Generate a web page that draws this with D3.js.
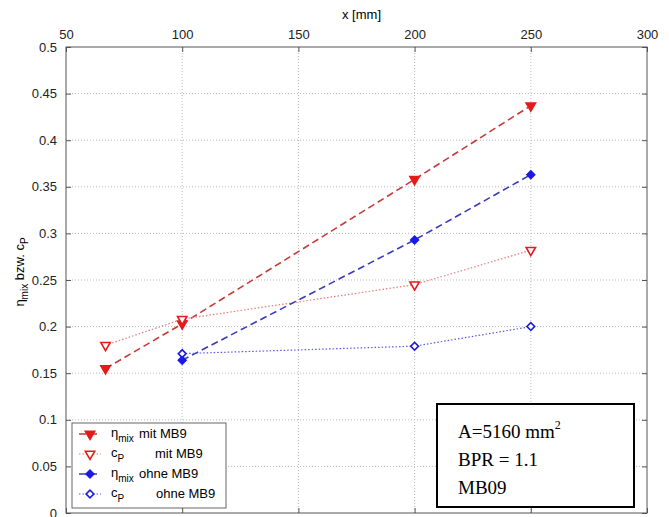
<!DOCTYPE html>
<html>
<head>
<meta charset="utf-8">
<script src="https://cdnjs.cloudflare.com/ajax/libs/d3/7.8.5/d3.min.js"></script>
<style>
  body { margin: 0; background: #fff; }
  svg { font-family: "Liberation Sans", Arial, sans-serif; }
</style>
</head>
<body>
<script>
// data
const xMit = [67, 100, 200, 250];
const etaMit = [0.155, 0.203, 0.358, 0.437];
const cpMit = [0.180, 0.208, 0.245, 0.282];
const xOhne = [100, 200, 250];
const etaOhne = [0.164, 0.293, 0.363];
const cpOhne = [0.171, 0.179, 0.200];
const xTicks = [50, 100, 150, 200, 250, 300];
const yTicks = [0, 0.05, 0.1, 0.15, 0.2, 0.25, 0.3, 0.35, 0.4, 0.45, 0.5];
const infoLines = ["A=5160 mm", "BPR = 1.1", "MB09"];

const W = 669, H = 517;
const m = {left: 66, right: 22, top: 47, bottom: 4};

const svg = d3.select('body').append('svg')
    .attr('width', W).attr('height', H);

const x = d3.scaleLinear().domain([50, 300]).range([m.left, W - m.right]);
const y = d3.scaleLinear().domain([0, 0.5]).range([H - m.bottom, m.top]);

// grid
const grid = svg.append('g').attr('stroke', '#bbb').attr('stroke-dasharray', '1,2');
grid.selectAll('line.gx').data(xTicks.slice(1, -1)).join('line')
    .attr('x1', d => x(d)).attr('x2', d => x(d))
    .attr('y1', y(0)).attr('y2', y(0.5));
grid.selectAll('line.gy').data(yTicks.slice(1, -1)).join('line')
    .attr('x1', x(50)).attr('x2', x(300))
    .attr('y1', d => y(d)).attr('y2', d => y(d));

// axes
const axisCol = '#555';
function styleAxis(g) {
  g.select('.domain').remove();
  g.selectAll('.tick line').attr('stroke', axisCol);
}
svg.append('g').attr('transform', `translate(0,${y(0.5)})`)
    .call(d3.axisTop(x).tickValues(xTicks).tickSize(-5).tickPadding(8).tickFormat(d3.format('d')))
    .call(styleAxis);
svg.append('g').attr('transform', `translate(0,${y(0)})`)
    .call(d3.axisBottom(x).tickValues(xTicks).tickSize(-5).tickFormat(''))
    .call(styleAxis);
svg.append('g').attr('transform', `translate(${x(50)},0)`)
    .call(d3.axisLeft(y).tickValues(yTicks).tickSize(-5).tickPadding(9).tickFormat(d => String(+d.toFixed(2))))
    .call(styleAxis);
svg.append('g').attr('transform', `translate(${x(300)},0)`)
    .call(d3.axisRight(y).tickValues(yTicks).tickSize(-5).tickFormat(''))
    .call(styleAxis);
svg.selectAll('.tick text').attr('font-size', 13).attr('fill', '#222')
    .attr('font-family', 'Liberation Sans, Arial, sans-serif');

svg.append('rect')
    .attr('x', x(50)).attr('y', y(0.5))
    .attr('width', x(300) - x(50)).attr('height', y(0) - y(0.5))
    .attr('fill', 'none').attr('stroke', axisCol).attr('stroke-width', 1);

// axis labels
svg.append('text').attr('x', (x(50) + x(300)) / 2 + 5).attr('y', 19)
    .attr('text-anchor', 'middle').attr('font-size', 13).text('x [mm]');
const yl = svg.append('text')
    .attr('transform', `translate(24,${(y(0) + y(0.5)) / 2 - 8}) rotate(-90)`)
    .attr('text-anchor', 'middle').attr('font-size', 13);
yl.append('tspan').text('η');
yl.append('tspan').attr('font-size', 10).attr('dy', 4).text('mix');
yl.append('tspan').attr('dy', -4).text(' bzw. c');
yl.append('tspan').attr('font-size', 10).attr('dy', 4).text('P');

// series
const red = '#e51b1b', blue = '#1a1ae6';
const tri = d3.symbol().type(d3.symbolTriangle).size(38);
const dia = d3.symbol().type(d3.symbolSquare).size(30);
const series = [
  {xs: xMit, ys: etaMit, color: red, lineCol: '#c83a3a', dash: '7,4', width: 1.6, sym: tri, rot: 180, filled: true},
  {xs: xMit, ys: cpMit, color: red, lineCol: '#e87a7a', dash: '1.5,2', width: 1.2, sym: tri, rot: 180, filled: false},
  {xs: xOhne, ys: etaOhne, color: blue, lineCol: '#3a3ac0', dash: '7,4', width: 1.6, sym: dia, rot: 45, filled: true},
  {xs: xOhne, ys: cpOhne, color: blue, lineCol: '#5a5ae0', dash: '1.5,2', width: 1.2, sym: dia, rot: 45, filled: false}
];
const line = d3.line().x(d => x(d[0])).y(d => y(d[1]));
series.forEach(s => {
  const pts = s.xs.map((v, i) => [v, s.ys[i]]);
  svg.append('path').datum(pts).attr('d', line)
      .attr('fill', 'none').attr('stroke', s.lineCol)
      .attr('stroke-width', s.width).attr('stroke-dasharray', s.dash);
  svg.selectAll(null).data(pts).join('path')
      .attr('d', s.sym)
      .attr('transform', d => `translate(${x(d[0])},${y(d[1])}) rotate(${s.rot})`)
      .attr('fill', s.filled ? s.color : '#fff')
      .attr('stroke', s.color).attr('stroke-width', 1.6);
});

// legend
const lg = svg.append('g');
lg.append('rect').attr('x', 72).attr('y', 423).attr('width', 154).attr('height', 85)
    .attr('fill', '#fff').attr('stroke', '#666').attr('stroke-width', 1);
const legRows = [
  {s: series[0], sym: 'η', sub: 'mix', rest: 'mit  MB9', restX: 139},
  {s: series[1], sym: 'c', sub: 'P', rest: 'mit  MB9', restX: 155},
  {s: series[2], sym: 'η', sub: 'mix', rest: 'ohne MB9', restX: 139},
  {s: series[3], sym: 'c', sub: 'P', rest: 'ohne MB9', restX: 156}
];
legRows.forEach((r, i) => {
  const yy = 434 + i * 20;
  lg.append('line').attr('x1', 79).attr('x2', 101).attr('y1', yy).attr('y2', yy)
      .attr('stroke', r.s.lineCol).attr('stroke-width', r.s.width).attr('stroke-dasharray', r.s.dash);
  lg.append('path').attr('d', r.s.sym)
      .attr('transform', `translate(90,${yy}) rotate(${r.s.rot})`)
      .attr('fill', r.s.filled ? r.s.color : '#fff')
      .attr('stroke', r.s.color).attr('stroke-width', 1.6);
  const t = lg.append('text').attr('x', 111).attr('y', yy + 3).attr('font-size', 13);
  t.append('tspan').text(r.sym);
  t.append('tspan').attr('font-size', 10).attr('dy', 5).text(r.sub);
  lg.append('text').attr('x', r.restX).attr('y', yy + 4).attr('font-size', 13).text(r.rest);
});

// info box
const ib = svg.append('g');
ib.append('rect').attr('x', 437).attr('y', 404).attr('width', 197).attr('height', 103)
    .attr('fill', '#fff').attr('stroke', '#000').attr('stroke-width', 2);
infoLines.forEach((txt, i) => {
  const t = ib.append('text').attr('x', 458).attr('y', 438 + i * 28)
      .attr('font-family', 'Liberation Serif, Times New Roman, serif').attr('font-size', 19).text(txt);
  if (i === 0) t.append('tspan').attr('font-size', 12).attr('dy', -9).text('2');
});
</script>
</body>
</html>
